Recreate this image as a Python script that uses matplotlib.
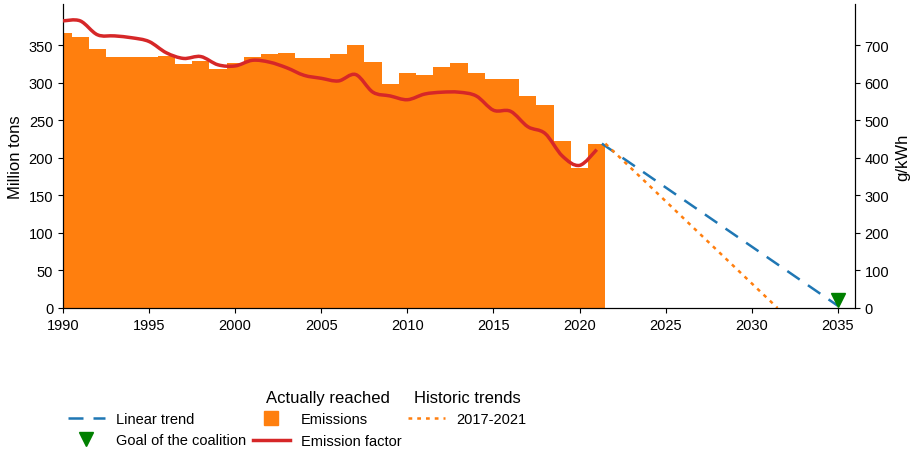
import matplotlib
matplotlib.use("Agg")
import matplotlib.pyplot as plt
import numpy as np
from matplotlib.path import Path
from matplotlib.patches import PathPatch
from matplotlib.lines import Line2D
from matplotlib.patches import Patch

plt.rcParams['font.family'] = ['Liberation Sans', 'DejaVu Sans']
plt.rcParams['font.size'] = 10.5

years = list(range(1990, 2022))
emissions = [366, 361, 345, 335, 335, 335, 336, 325, 329, 318, 327, 335, 338, 340, 333, 333,
             339, 351, 328, 299, 313, 310, 321, 326, 313, 305, 305, 283, 271, 222, 187, 219]
factor = [765, 765, 728, 725, 720, 710, 680, 665, 670, 648, 645, 660, 655, 640, 620, 612,
          605, 622, 575, 565, 555, 570, 575, 575, 565, 527, 524, 483, 465, 405, 380, 422]
linear_x = [2021.3, 2035]
linear_y = [219, 3]
hist_x = [2021.5, 2031.5]
hist_y = [219, 0]
goal_x = [2035]
goal_y = [10]

fig = plt.figure(figsize=(9.2, 4.6), dpi=100)
ax = fig.add_axes([63/920, 1-309/460, (855-63)/920, 304/460])
ax.bar(years, emissions, width=1.0, color='#ff7f0e', zorder=1)
ax.set_xlim(1990, 2036)
ax.set_ylim(0, 405)
ax.plot(linear_x, linear_y, ls=(0, (6, 4)), color='#1f77b4', lw=1.8, zorder=3)
ax.plot(hist_x, hist_y, ls=(0, (1.5, 2)), color='#ff7f0e', lw=1.8, zorder=3)
ax.plot(goal_x, goal_y, marker='v', color='green', ms=10, ls='none', zorder=4, clip_on=False)
ax.set_ylabel('Million tons', fontsize=12)
ax.set_yticks(range(0, 351, 50))
ax.set_xticks(range(1990, 2036, 5))
ax.spines['top'].set_visible(False)

ax2 = ax.twinx()
ax2.set_ylim(0, 810)
ax2.set_yticks(range(0, 701, 100))
ax2.set_ylabel('g/kWh', fontsize=12)
ax2.spines['top'].set_visible(False)

# smooth curve via Catmull-Rom -> cubic Bezier
x = np.array(years, float); y = np.array(factor, float)
verts = [(x[0], y[0])]; codes = [Path.MOVETO]
for i in range(len(x) - 1):
    p0 = np.array([x[max(i-1, 0)], y[max(i-1, 0)]])
    p1 = np.array([x[i], y[i]]); p2 = np.array([x[i+1], y[i+1]])
    p3 = np.array([x[min(i+2, len(x)-1)], y[min(i+2, len(x)-1)]])
    c1 = p1 + (p2 - p0) / 6; c2 = p2 - (p3 - p1) / 6
    verts += [tuple(c1), tuple(c2), tuple(p2)]; codes += [Path.CURVE4]*3
ax2.add_patch(PathPatch(Path(verts, codes), fill=False, edgecolor='#d62728', lw=2.5, zorder=5))

h1 = [Line2D([], [], ls=(0, (6, 4)), color='#1f77b4', lw=1.8),
      Line2D([], [], marker='v', color='green', ms=10, ls='none')]
l1 = fig.legend(h1, ['Linear trend', 'Goal of the coalition'], loc='upper left',
                bbox_to_anchor=(55/920, 1-400/460), frameon=False, handlelength=2.5)
h2 = [Line2D([], [], marker='s', color='#ff7f0e', ms=10, ls='none'),
      Line2D([], [], color='#d62728', lw=2.5)]
l2 = fig.legend(h2, ['Emissions', 'Emission factor'], loc='upper left', title='Actually reached',
                bbox_to_anchor=(240/920, 1-378/460), frameon=False, handlelength=2.5)
l3 = fig.legend([Line2D([], [], ls=(0, (1.5, 2)), color='#ff7f0e', lw=1.8)], ['2017-2021'],
                loc='upper left', title='Historic trends',
                bbox_to_anchor=(395/920, 1-378/460), frameon=False, handlelength=2.5)
for l in (l2, l3):
    l.get_title().set_fontsize(12)
fig.savefig('out.png', dpi=100)
